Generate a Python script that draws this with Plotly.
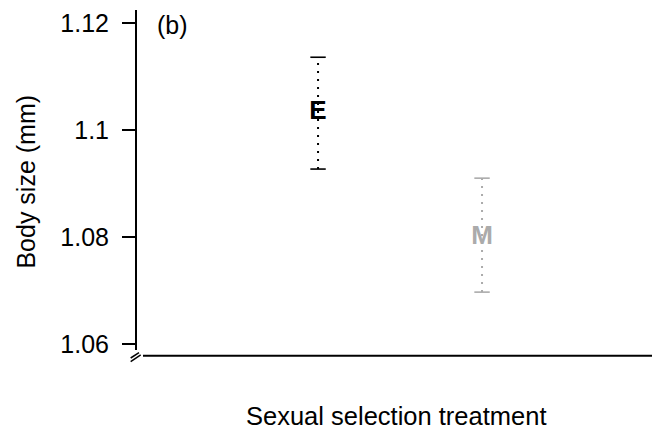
import plotly.graph_objects as go

treatments = ["E", "M"]
means = [1.1032, 1.0800]
upper = [1.1136, 1.0910]
lower = [1.0927, 1.0697]
colors = ["#000000", "#ababab"]
ytick_vals = [1.06, 1.08, 1.10, 1.12]
ytick_text = ["1.06", "1.08", "1.1", "1.12"]

FONT = "Liberation Sans, Arial, Helvetica, sans-serif"

fig = go.Figure()

for t, m, u, l, c in zip(treatments, means, upper, lower, colors):
    # dotted error bar
    fig.add_trace(go.Scatter(
        x=[t, t], y=[l, u], mode="lines",
        line=dict(color=c, width=2, dash="2px,6px"),
        hoverinfo="skip", showlegend=False))
    # caps
    fig.add_trace(go.Scatter(
        x=[t, t], y=[l, u], mode="markers",
        marker=dict(symbol="line-ew", size=11, line=dict(color=c, width=1.6)),
        hoverinfo="skip", showlegend=False))
    # letter at mean
    fig.add_trace(go.Scatter(
        x=[t], y=[m], mode="text", text=[t],
        textposition="middle center",
        textfont=dict(family=FONT, size=26, color=c, weight="bold"),
        hoverinfo="skip", showlegend=False))

fig.update_layout(
    width=652, height=428,
    margin=dict(l=128, r=2, t=2, b=80),
    paper_bgcolor="white", plot_bgcolor="white",
    font=dict(family=FONT, color="black", size=25),
    xaxis=dict(
        type="category", categoryorder="array", categoryarray=treatments,
        range=[-1.11, 2.073], showgrid=False, zeroline=False,
        showline=False, showticklabels=False, ticks=""),
    yaxis=dict(
        range=[1.05776, 1.12243], showgrid=False, zeroline=False,
        showline=False, tickvals=ytick_vals, ticktext=ytick_text,
        ticks="outside", ticklen=13, tickwidth=1.5, tickcolor="black",
        tickfont=dict(family=FONT, size=25, color="black"),
        ticklabelstandoff=8),
    shapes=[
        # y axis line
        dict(type="line", xref="paper", yref="paper", x0=0, x1=0,
             y0=0.0173, y1=1.0, line=dict(color="black", width=2)),
        # x axis line
        dict(type="line", xref="paper", yref="paper", x0=0.0134, x1=1.0,
             y0=0.0005, y1=0.0005, line=dict(color="black", width=2)),
        # axis break marks
        dict(type="line", xref="paper", yref="paper", x0=-0.0102, x1=0.009,
             y0=-0.0165, y1=0.0029, line=dict(color="black", width=1.5)),
        dict(type="line", xref="paper", yref="paper", x0=-0.0102, x1=0.00575,
             y0=-0.00578, y1=0.00954, line=dict(color="black", width=1.5)),
    ],
    annotations=[
        dict(text="Sexual selection treatment", xref="paper", yref="paper",
             x=0.499, y=-0.173, xanchor="center", yanchor="middle",
             showarrow=False, font=dict(family=FONT, size=25.5, color="black")),
        dict(text="Body size (mm)", xref="paper", yref="paper",
             x=-0.2115, y=0.503, xanchor="center", yanchor="middle",
             textangle=-90, showarrow=False,
             font=dict(family=FONT, size=25, color="black")),
        dict(text="(b)", xref="paper", yref="paper",
             x=0.069, y=0.9566, xanchor="center", yanchor="middle",
             showarrow=False, font=dict(family=FONT, size=25, color="black")),
    ],
)

fig.write_html("out.html")
